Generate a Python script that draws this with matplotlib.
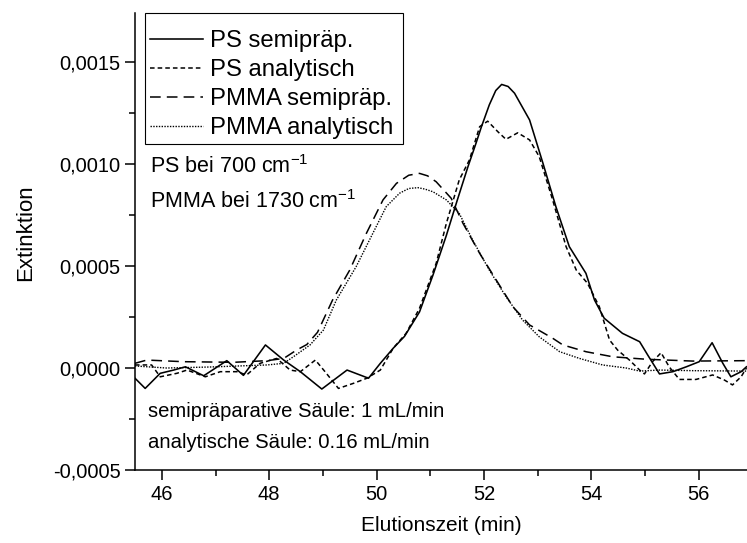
import numpy as np
import matplotlib
matplotlib.use('Agg')
import matplotlib.pyplot as plt
from matplotlib.patches import Rectangle
from matplotlib.ticker import MultipleLocator, FuncFormatter

plt.rcParams['font.family'] = ['Liberation Sans', 'DejaVu Sans']
plt.rcParams['mathtext.default'] = 'regular'

# values, extinction in units of 1e-4
ps_semi_x = [45.50, 45.69, 45.97, 46.22, 46.44, 46.78, 47.21, 47.52, 47.93, 48.27,
             48.58, 48.98, 49.45, 49.85, 50.07, 50.31, 50.52, 50.80, 51.05, 51.30,
             51.50, 51.70, 51.85, 51.95, 52.10, 52.22, 52.33, 52.45, 52.57, 52.85,
             53.10, 53.34, 53.59, 53.90, 54.06, 54.24, 54.58, 54.90, 55.05, 55.27,
             55.52, 55.77, 56.01, 56.25, 56.45, 56.60, 56.79, 56.89]
ps_semi_y = [-0.50, -1.00, -0.26, -0.10, 0.06, -0.38, 0.36, -0.36, 1.13, 0.39,
             -0.18, -1.03, -0.10, -0.50, 0.23, 0.97, 1.55, 2.75, 4.55, 6.50,
             8.20, 9.85, 11.00, 11.80, 12.90, 13.60, 13.90, 13.80, 13.47, 12.16,
             10.03, 7.91, 5.95, 4.64, 3.33, 2.44, 1.70, 1.29, 0.64, -0.29,
             -0.18, 0.06, 0.31, 1.24, 0.23, -0.43, -0.18, 0.06]

ps_ana_x = [45.50, 45.81, 45.97, 46.28, 46.47, 46.81, 47.09, 47.40, 47.58, 47.83,
            48.14, 48.39, 48.58, 48.86, 49.04, 49.29, 49.57, 49.82, 50.07, 50.31,
            50.55, 50.80, 51.11, 51.30, 51.54, 51.73, 51.92, 52.07, 52.26, 52.41,
            52.63, 52.85, 53.03, 53.28, 53.53, 53.72, 53.93, 54.15, 54.34, 54.49,
            54.71, 54.90, 54.99, 55.14, 55.30, 55.45, 55.64, 55.95, 56.26, 56.48,
            56.63, 56.79, 56.89]
ps_ana_y = [0.15, 0.15, -0.43, -0.26, -0.10, -0.43, -0.18, -0.18, -0.34, 0.23,
            0.47, -0.10, -0.18, 0.39, -0.18, -1.00, -0.75, -0.50, -0.10, 0.97,
            1.70, 2.93, 5.13, 7.09, 9.22, 10.20, 11.83, 12.10, 11.58, 11.21,
            11.53, 11.18, 10.36, 8.24, 5.95, 4.80, 4.15, 3.00, 1.37, 0.88,
            0.39, -0.10, -0.29, 0.31, 0.75, 0.06, -0.56, -0.56, -0.34, -0.59,
            -0.83, -0.43, 0.00]

pmma_semi_x = [45.50, 45.72, 46.40, 47.34, 47.96, 48.27, 48.51, 48.70, 48.90, 49.18,
               49.50, 49.81, 50.12, 50.37, 50.60, 50.80, 50.95, 51.11, 51.39, 51.61,
               51.92, 52.23, 52.54, 52.85, 53.28, 53.47, 53.90, 54.40, 55.02, 55.89,
               56.89]
pmma_semi_y = [0.23, 0.39, 0.31, 0.28, 0.36, 0.47, 0.88, 1.15, 1.75, 3.33,
               4.80, 6.60, 8.24, 9.05, 9.45, 9.54, 9.42, 9.13, 8.32, 7.09,
               5.62, 4.31, 3.00, 2.11, 1.46, 1.13, 0.80, 0.55, 0.43, 0.34,
               0.36]

pmma_ana_x = [45.50, 46.09, 46.90, 47.96, 48.27, 48.45, 48.76, 49.01, 49.25, 49.62,
              49.93, 50.18, 50.43, 50.60, 50.77, 50.90, 51.05, 51.30, 51.54, 51.79,
              52.10, 52.41, 52.72, 53.03, 53.41, 53.78, 54.21, 54.65, 54.90, 55.27,
              55.89, 56.89]
pmma_ana_y = [0.10, 0.00, 0.05, 0.15, 0.23, 0.55, 1.13, 1.86, 3.33, 4.97,
              6.60, 7.91, 8.57, 8.80, 8.84, 8.77, 8.64, 8.24, 7.58, 6.27,
              4.80, 3.50, 2.35, 1.53, 0.80, 0.47, 0.15, 0.00, -0.15, -0.10,
              -0.13, -0.15]

scale = 1e-4

fig = plt.figure(figsize=(7.47, 5.43), dpi=100)
ax = fig.add_axes([0.1807, 0.1344, 0.8193, 0.8416])

style = dict(color='black', solid_joinstyle='round', dash_joinstyle='round')
ax.plot(ps_semi_x, np.array(ps_semi_y) * scale, lw=1.15,
        label='PS semipräp.', **style)
ax.plot(ps_ana_x, np.array(ps_ana_y) * scale, lw=1.1,
        dashes=(3, 2), label='PS analytisch', **style)
ax.plot(pmma_semi_x, np.array(pmma_semi_y) * scale, lw=1.1,
        dashes=(7, 4), label='PMMA semipräp.', **style)
ax.plot(pmma_ana_x, np.array(pmma_ana_y) * scale, lw=1.0,
        dashes=(1, 1), label='PMMA analytisch', **style)

ax.set_xlim(45.5, 56.9)
ax.set_ylim(-0.0005, 0.00174)

ax.xaxis.set_major_locator(MultipleLocator(2))
ax.xaxis.set_minor_locator(MultipleLocator(1))
ax.yaxis.set_major_locator(MultipleLocator(0.0005))
ax.yaxis.set_minor_locator(MultipleLocator(0.00025))
ax.yaxis.set_major_formatter(FuncFormatter(lambda v, p: f'{v:.4f}'.replace('.', ',')))

ax.spines['top'].set_visible(False)
ax.spines['right'].set_visible(False)
ax.spines['left'].set_linewidth(1.1)
ax.spines['bottom'].set_linewidth(1.1)
ax.tick_params(which='major', direction='out', length=7, width=1.1, labelsize=14.5)
ax.tick_params(which='minor', direction='out', length=4, width=1.1)

ax.set_xlabel('Elutionszeit (min)', fontsize=15)
ax.set_ylabel('Extinktion', fontsize=16)
ax.xaxis.set_label_coords(0.5, -0.10)
ax.yaxis.set_label_coords(-0.162, 0.52)

# legend without its own frame, box drawn separately (taller than the entries)
ax.legend(loc='upper left', bbox_to_anchor=(0.0245, 0.963), fontsize=17.2,
          frameon=False, handlelength=2.2, handletextpad=0.3,
          labelspacing=0.3, borderpad=0, borderaxespad=0)
ax.add_patch(Rectangle((0.0163, 0.7133), 0.4216, 0.2867, transform=ax.transAxes,
                       fill=False, edgecolor='black', lw=0.8, clip_on=False))

ax.text(0.024, 0.665, 'PS bei 700 cm$^{-1}$', transform=ax.transAxes,
        fontsize=15.5, va='center')
ax.text(0.024, 0.588, 'PMMA bei 1730 cm$^{-1}$', transform=ax.transAxes,
        fontsize=15.5, va='center')
ax.text(0.021, 0.127, 'semipräparative Säule: 1 mL/min', transform=ax.transAxes,
        fontsize=14.6, va='center')
ax.text(0.021, 0.061, 'analytische Säule: 0.16 mL/min', transform=ax.transAxes,
        fontsize=14.6, va='center')

fig.savefig('out.png', dpi=100)
